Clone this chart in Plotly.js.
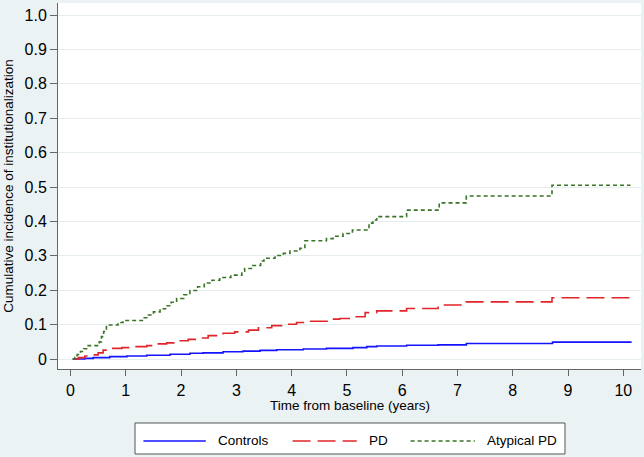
<!DOCTYPE html>
<html>
<head>
<meta charset="utf-8">
<script src="https://cdn.plot.ly/plotly-3.0.1.min.js"></script>
<style>html,body{margin:0;padding:0;background:#eaf2f3;}#chart{width:644px;height:457px;}</style>
</head>
<body>
<div id="chart"></div>
<script>
// ---- data ----
const seriesNames = ["Controls", "PD", "Atypical PD"];

const controlsTime = [0.04, 0.26, 0.41, 0.71, 1.02, 1.38, 1.80, 2.16, 2.40, 2.76, 3.12, 3.43, 3.73, 4.21, 4.63, 5.11, 5.36, 5.54, 6.08, 6.65, 7.16, 8.72, 10.15];
const controlsCI   = [0, 0.002, 0.004, 0.007, 0.009, 0.011, 0.014, 0.017, 0.018, 0.021, 0.023, 0.025, 0.027, 0.029, 0.031, 0.033, 0.036, 0.038, 0.040, 0.041, 0.045, 0.049, 0.049];

const pdTime = [0.04, 0.14, 0.26, 0.41, 0.50, 0.59, 0.71, 0.93, 1.14, 1.38, 1.56, 1.74, 1.95, 2.13, 2.28, 2.49, 2.76, 2.97, 3.22, 3.40, 3.64, 3.91, 4.09, 4.24, 4.69, 4.87, 5.08, 5.33, 5.54, 6.08, 6.65, 7.16, 8.71, 10.13];
const pdCI   = [0, 0.004, 0.009, 0.012, 0.018, 0.026, 0.031, 0.033, 0.036, 0.039, 0.044, 0.047, 0.053, 0.057, 0.061, 0.068, 0.075, 0.079, 0.084, 0.091, 0.097, 0.101, 0.106, 0.110, 0.116, 0.118, 0.123, 0.135, 0.140, 0.147, 0.157, 0.166, 0.178, 0.178];

const atypTime = [0.04, 0.08, 0.12, 0.18, 0.24, 0.32, 0.52, 0.56, 0.60, 0.65, 0.86, 0.95, 1.30, 1.38, 1.50, 1.62, 1.72, 1.82, 1.92, 2.05, 2.16, 2.30, 2.42, 2.56, 2.70, 2.90, 3.10, 3.15, 3.30, 3.44, 3.50, 3.70, 3.85, 3.97, 4.15, 4.24, 4.63, 4.75, 4.93, 5.10, 5.40, 5.47, 5.54, 6.08, 6.67, 7.16, 8.71, 10.13];
const atypCI   = [0, 0.005, 0.013, 0.022, 0.030, 0.039, 0.050, 0.065, 0.080, 0.099, 0.106, 0.112, 0.120, 0.128, 0.137, 0.146, 0.155, 0.165, 0.176, 0.187, 0.199, 0.210, 0.221, 0.229, 0.237, 0.244, 0.255, 0.263, 0.272, 0.285, 0.293, 0.301, 0.307, 0.314, 0.322, 0.344, 0.350, 0.357, 0.365, 0.375, 0.395, 0.404, 0.414, 0.433, 0.454, 0.474, 0.505, 0.505];

const xTickVals = [0, 1, 2, 3, 4, 5, 6, 7, 8, 9, 10];
const yTickVals = [0, 0.1, 0.2, 0.3, 0.4, 0.5, 0.6, 0.7, 0.8, 0.9, 1.0];
const yTickText = ["0", "0.1", "0.2", "0.3", "0.4", "0.5", "0.6", "0.7", "0.8", "0.9", "1.0"];

const xTitle = "Time from baseline (years)";
const yTitle = "Cumulative incidence of institutionalization";

// ---- styles ----
const colors = ["#1414ff", "#e0262a", "#3a7427"];
const dashes = ["solid", "18px,7px", "4px,3px"];
const FONT = "Liberation Sans, Arial, sans-serif";

const xs = [controlsTime, pdTime, atypTime];
const ys = [controlsCI, pdCI, atypCI];

const traces = seriesNames.map((n, i) => ({
  type: "scatter", mode: "lines", name: n,
  x: xs[i], y: ys[i],
  line: {shape: "hv", color: colors[i], width: 1.6, dash: dashes[i]},
  showlegend: false, hoverinfo: "skip"
}));

// custom legend box (paper coordinates)
const legY = -0.1967;
const legLineX = [[0.1465, 0.2535], [0.4024, 0.5125], [0.6048, 0.7149]];
const legTextX = [0.2714, 0.5304, 0.7328];
const shapes = [{
  type: "rect", xref: "paper", yref: "paper",
  x0: 0.1321, x1: 0.8696, y0: -0.1475, y1: -0.2322,
  fillcolor: "white", line: {color: "#555", width: 1}, layer: "above"
}];
const annotations = [];
seriesNames.forEach((n, i) => {
  shapes.push({type: "line", xref: "paper", yref: "paper",
    x0: legLineX[i][0], x1: legLineX[i][1], y0: legY, y1: legY,
    line: {color: colors[i], width: 1.6, dash: dashes[i]}, layer: "above"});
  annotations.push({xref: "paper", yref: "paper", x: legTextX[i], y: legY,
    xanchor: "left", yanchor: "middle", text: n, showarrow: false,
    font: {family: FONT, size: 13.5, color: "#000"}});
});
// x-axis title placed just under the tick labels
annotations.push({xref: "paper", yref: "paper", x: 0.5, y: -0.0995,
  xanchor: "center", yanchor: "middle", text: xTitle, showarrow: false,
  font: {family: FONT, size: 13.5, color: "#000"}});

const layout = {
  width: 644, height: 457,
  margin: {l: 58, r: 3, t: 3, b: 88, pad: 0},
  paper_bgcolor: "#eaf2f3", plot_bgcolor: "#ffffff",
  font: {family: FONT, color: "#000"},
  showlegend: false,
  xaxis: {
    range: [-0.226, 10.32], tickvals: xTickVals, ticks: "outside", ticklen: 6,
    tickcolor: "#666", showline: true, linecolor: "#666", linewidth: 1,
    showgrid: false, zeroline: false, tickfont: {family: FONT, size: 16},
    ticklabelstandoff: 1
  },
  yaxis: {
    range: [-0.029, 1.035], tickvals: yTickVals, ticktext: yTickText,
    ticks: "outside", ticklen: 7, tickcolor: "#666", showline: true,
    linecolor: "#666", linewidth: 1, showgrid: true, gridcolor: "#e4ecee",
    gridwidth: 1, zeroline: false, tickfont: {family: FONT, size: 16},
    title: {text: yTitle, font: {family: FONT, size: 13.5}, standoff: 7}
  },
  shapes: shapes,
  annotations: annotations
};

Plotly.newPlot("chart", traces, layout, {staticPlot: true, displayModeBar: false});
</script>
</body>
</html>
